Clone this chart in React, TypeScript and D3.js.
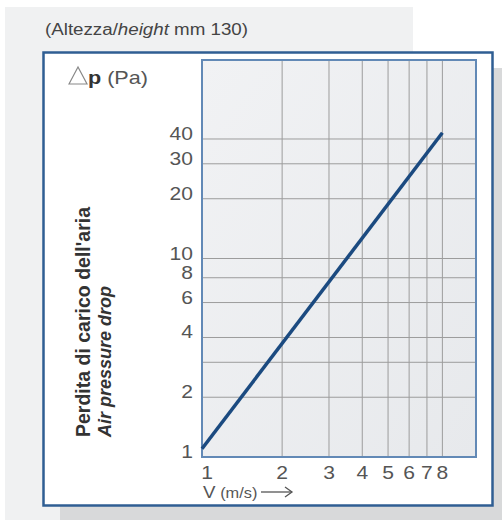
import React from "react";
import * as d3 from "d3";

// chart values
const velocity = [1, 8];
const pressureDrop = [1.1, 43];

const xTicks = [1, 2, 3, 4, 5, 6, 7, 8];
const xGrid = [2, 3, 4, 5, 6, 7, 8];
const yTicks = [1, 2, 4, 6, 8, 10, 20, 30, 40];
const yGrid = [2, 3, 4, 6, 8, 10, 20, 30, 40];

const App = () => {
  const width = 502;
  const height = 520;
  const plot = { left: 202, top: 60, right: 476, bottom: 457 };

  const x = d3.scaleLog().domain([1, 10.7]).range([plot.left, plot.right]);
  const y = d3.scaleLog().domain([1, 100]).range([plot.bottom, plot.top]);

  const points = velocity.map((v, i) => [v, pressureDrop[i]] as [number, number]);
  const line = d3
    .line<[number, number]>()
    .x((d) => x(d[0]))
    .y((d) => y(d[1]));

  const font = "'Liberation Sans', Arial, Helvetica, sans-serif";
  // the reference type is a little wider than Arial
  const stretch = "scale(1.17,1)";

  return (
    <svg
      width={width}
      height={height}
      style={{ position: "absolute", left: 0, top: 0 }}
      fontFamily={font}
    >
      <defs>
        <linearGradient id="plotbg" x1="0" y1="0" x2="1" y2="1">
          <stop offset="0%" stopColor="#f1f2f4" />
          <stop offset="100%" stopColor="#e7e9ec" />
        </linearGradient>
      </defs>

      {/* page background */}
      <rect x={0} y={0} width={width} height={height} fill="#ffffff" />
      <rect x={5} y={7} width={408} height={height} fill="#f0f1f2" />
      <rect x={60} y={68} width={460} height={470} fill="#d8d9da" />

      {/* outer box */}
      <rect x={43.5} y={52.5} width={449} height={453} fill="#ffffff" stroke="#2f5e93" strokeWidth={2.5} />

      {/* title */}
      <text x={45} y={35} fontSize={16} fill="#444" textLength={203} lengthAdjust="spacingAndGlyphs">
        (Altezza/<tspan fontStyle="italic">height</tspan> mm 130)
      </text>

      {/* plot area */}
      <rect
        x={plot.left}
        y={plot.top}
        width={plot.right - plot.left}
        height={plot.bottom - plot.top}
        fill="url(#plotbg)"
      />

      {/* grid */}
      <g stroke="#9c9c9c" strokeWidth={1}>
        {xGrid.map((v) => (
          <line key={"gx" + v} x1={x(v)} x2={x(v)} y1={plot.top} y2={plot.bottom} />
        ))}
        {yGrid.map((v) => (
          <line key={"gy" + v} x1={plot.left} x2={plot.right} y1={y(v)} y2={y(v)} />
        ))}
      </g>

      <rect
        x={plot.left}
        y={plot.top}
        width={plot.right - plot.left}
        height={plot.bottom - plot.top}
        fill="none"
        stroke="#6289b6"
        strokeWidth={2}
      />

      {/* pressure drop curve */}
      <path d={line(points) || ""} fill="none" stroke="#1b4a80" strokeWidth={3.5} />

      {/* y tick labels */}
      <g fontSize={18} fill="#555" textAnchor="end">
        {yTicks.map((v) => (
          <text key={"ty" + v} transform={`translate(193,${y(v) + 1}) ${stretch}`}>
            {v}
          </text>
        ))}
      </g>

      {/* x tick labels */}
      <g fontSize={18} fill="#555" textAnchor="middle">
        {xTicks.map((v) => (
          <text key={"tx" + v} transform={`translate(${x(v) + (v === 1 ? 5 : 0)},479) ${stretch}`}>
            {v}
          </text>
        ))}
      </g>

      {/* x axis title */}
      <text transform={`translate(203,498) ${stretch}`} fill="#555">
        <tspan fontSize={16}>V</tspan>
        <tspan fontSize={14} dx={4}>(m/s)</tspan>
      </text>
      <g stroke="#555" strokeWidth={1.3} fill="none">
        <line x1={261} x2={292} y1={492} y2={492} />
        <polyline points="285,487 292,492 285,497" />
      </g>

      {/* y axis unit */}
      <path d="M69,84 L78,67 L87,84 Z" fill="none" stroke="#888" strokeWidth={1.2} />
      <text transform={`translate(88,84) scale(1.2,1)`} fontSize={18} fill="#555">
        <tspan fontWeight="bold" fill="#333">p</tspan>
        <tspan dx={5}>(Pa)</tspan>
      </text>

      {/* vertical titles */}
      <text
        transform="translate(90,437) rotate(-90)"
        fontSize={19.5}
        fontWeight="bold"
        fill="#333"
      >
        Perdita di carico dell'aria
      </text>
      <text
        transform="translate(111,437) rotate(-90)"
        fontSize={18}
        fontWeight="bold"
        fontStyle="italic"
        fill="#333"
      >
        Air pressure drop
      </text>
    </svg>
  );
};

export default App;
